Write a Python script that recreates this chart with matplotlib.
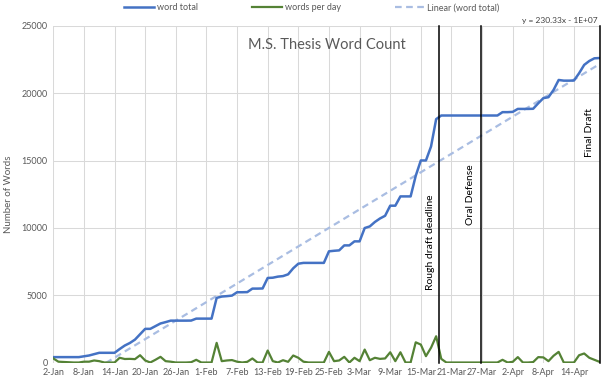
import numpy as np
import matplotlib
matplotlib.use("Agg")
import matplotlib.pyplot as plt

plt.rcParams['font.family'] = ['Lato', 'DejaVu Sans']

# ---- data (one value per day starting 2-Jan) ----
word_total = [
    400, 400, 400, 400, 400, 400, 460, 520, 620, 720,
    720, 720, 720, 1000, 1260, 1450, 1700, 2100, 2500, 2500,
    2700, 2900, 3000, 3110, 3110, 3110, 3110, 3115, 3260, 3260,
    3260, 3260, 4800, 4900, 4930, 4970, 5220, 5220, 5230, 5490,
    5490, 5500, 6280, 6300, 6380, 6420, 6550, 7000, 7340, 7400,
    7400, 7400, 7400, 7400, 8260, 8300, 8330, 8700, 8700, 9000,
    9000, 9990, 10110, 10440, 10700, 10900, 11650, 11650, 12340, 12340,
    12340, 13870, 15010, 15010, 16050, 18080, 18350, 18350, 18350, 18350,
    18350, 18350, 18350, 18350, 18350, 18350, 18350, 18350, 18600, 18600,
    18620, 18840, 18840, 18840, 18850, 19260, 19640, 19710, 20250, 20990,
    20940, 20940, 20950, 21490, 22110, 22400, 22600, 22620,
]
words_per_day = [
    300, 60, 40, 20, 0, 0, 60, 60, 150, 100,
    0, 0, 0, 350, 260, 270, 250, 540, 150, 0,
    200, 420, 100, 60, 0, 0, 0, 20, 200, 0,
    0, 0, 1460, 100, 150, 180, 60, 0, 50, 300,
    0, 0, 890, 100, 0, 170, 50, 520, 350, 60,
    0, 0, 0, 0, 790, 100, 150, 420, 0, 350,
    100, 960, 170, 350, 270, 300, 760, 100, 760, 0,
    0, 1500, 1330, 470, 1100, 1950, 270, 0, 0, 0,
    0, 0, 0, 0, 0, 0, 0, 0, 200, 0,
    50, 400, 0, 0, 30, 400, 380, 100, 500, 790,
    0, 0, 0, 540, 670, 350, 200, 50,
]
tick_labels = ["2-Jan", "8-Jan", "14-Jan", "20-Jan", "26-Jan", "1-Feb", "7-Feb",
               "13-Feb", "19-Feb", "25-Feb", "3-Mar", "9-Mar", "15-Mar", "21-Mar",
               "27-Mar", "2-Apr", "8-Apr", "14-Apr"]
event_labels = ["Rough draft deadline", "Oral Defense", "Final Draft"]
event_days = [75.5, 83.7, 107]
trend_text = "y = 230.33x - 1E+07"
title_text = "M.S. Thesis Word Count"
series_names = ["word total", "words per day", "Linear (word total)"]

W, H = 608, 385
fig = plt.figure(figsize=(W / 100, H / 100), dpi=100)
ax = fig.add_axes([53.3 / W, (H - 362.5) / H, (599.5 - 53.3) / W, (362.5 - 26) / H])

days = np.arange(len(word_total))
l1, = ax.plot(days, word_total, color='#4472C4', lw=1.8, solid_joinstyle='round', zorder=3)
l2, = ax.plot(days, words_per_day, color='#548235', lw=1.6, solid_joinstyle='round', zorder=3)
coef = np.polyfit(days, word_total, 1)
l3, = ax.plot(days, np.polyval(coef, days), color='#A9BDE2', lw=1.6, ls=(0, (3, 2)), zorder=2)
print(coef)

for d in event_days:
    ax.axvline(d, color='black', lw=1.1, zorder=4, clip_on=False)

ax.set_xlim(0, len(word_total) - 1)
ax.set_ylim(0, 25000)
ax.set_xticks(np.arange(0, len(tick_labels) * 6, 6))
ax.set_xticklabels(tick_labels)
ax.set_yticks(np.arange(0, 25001, 5000))
ax.tick_params(axis='both', length=0, labelsize=6.5, colors='#595959', pad=4)
ax.grid(True, color='#D9D9D9', lw=0.75)
ax.set_axisbelow(True)
for s in ax.spines.values():
    s.set_visible(False)

ax.set_ylabel("Number of Words", fontsize=7, color='#595959', labelpad=6)

# event labels
txt_kw = dict(rotation=90, ha='center', va='center', fontsize=7.5, color='black')
ax.text(event_days[0] - 1.6, 8900, event_labels[0], **txt_kw)
ax.text(event_days[1] - 2.0, 12500, event_labels[1], **txt_kw)
ax.text(event_days[2] - 2.0, 17100, event_labels[2], **txt_kw)

ax.text(0.5, 0.945, title_text, transform=ax.transAxes, ha='center', va='center',
        fontsize=10.5, color='#595959')
fig.text(598 / W, 1 - 20 / H, trend_text, ha='right', va='center', fontsize=6, color='#404040')

fig.legend([l1, l2, l3], series_names, loc='center', bbox_to_anchor=(312 / W, 1 - 8 / H),
           ncol=3, frameon=False, fontsize=6.5, handlelength=3.3, columnspacing=6,
           handletextpad=0.3, labelcolor='#595959')

fig.savefig("out.png", dpi=100)
